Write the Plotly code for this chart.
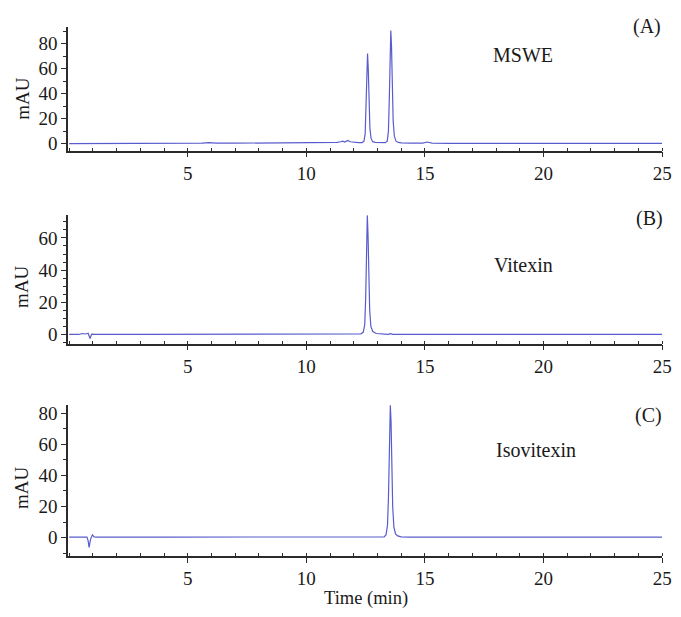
import plotly.graph_objects as go

# ---- Chromatogram data (time in min, absorbance in mAU) ----
# (A) MSWE extract
time_a = [0.0, 1.0, 2.0, 3.0, 3.9, 4.2, 4.5, 5.6, 5.9, 6.2, 7.0, 8.1, 8.4, 8.7, 9.5,
          10.2, 10.8, 11.3, 11.45, 11.53, 11.62, 11.74, 11.85, 12.0, 12.2, 12.35, 12.43,
          12.48, 12.52, 12.55, 12.58, 12.61, 12.64, 12.68, 12.73, 12.80, 12.90, 13.05,
          13.2, 13.33, 13.41, 13.46, 13.50, 13.53, 13.56, 13.59, 13.62, 13.66, 13.71,
          13.78, 13.88, 14.0, 14.4, 14.9, 15.1, 15.3, 16.0, 18.0, 20.0, 22.0, 24.0, 25.0]
mau_a = [0.1, 0.1, 0.2, 0.2, 0.3, 0.7, 0.3, 0.4, 0.9, 0.4, 0.4, 0.5, 1.0, 0.6, 0.7,
         0.9, 1.0, 1.0, 1.5, 2.0, 1.3, 2.6, 1.5, 1.0, 0.9, 0.9, 2.0,
         8.0, 30.0, 58.0, 72.0, 60.0, 35.0, 12.0, 4.0, 1.6, 1.0, 0.8,
         0.7, 0.8, 2.0, 10.0, 38.0, 72.0, 90.5, 78.0, 48.0, 18.0, 6.0,
         2.0, 1.0, 0.6, 0.4, 0.5, 1.3, 0.5, 0.3, 0.3, 0.2, 0.2, 0.2, 0.2]

# (B) Vitexin standard
time_b = [0.0, 0.4, 0.55, 0.7, 0.8, 0.88, 0.95, 1.1, 3.0, 6.0, 9.0, 11.3, 11.47, 11.65,
          12.1, 12.30, 12.40, 12.46, 12.50, 12.54, 12.57, 12.60, 12.63, 12.67, 12.72,
          12.80, 12.95, 13.2, 13.45, 13.55, 13.65, 14.0, 17.0, 20.0, 23.0, 25.0]
mau_b = [0.0, 0.0, 0.6, 0.3, 0.8, -2.5, 0.2, 0.0, 0.0, 0.0, 0.0, 0.0, 0.4, 0.0,
         0.0, 0.3, 1.5, 6.0, 22.0, 55.0, 74.0, 62.0, 38.0, 15.0, 5.0,
         1.8, 0.6, 0.2, 0.1, 0.5, 0.1, 0.0, 0.0, 0.0, 0.0, 0.0]

# (C) Isovitexin standard
time_c = [0.0, 0.5, 0.75, 0.80, 0.84, 0.90, 0.98, 1.05, 1.2, 4.0, 8.0, 11.0, 13.0,
          13.28, 13.36, 13.42, 13.46, 13.50, 13.54, 13.57, 13.60, 13.64, 13.69, 13.76,
          13.85, 14.0, 14.3, 16.0, 19.0, 22.0, 25.0]
mau_c = [0.4, 0.4, 0.4, -2.0, -6.2, -1.0, 1.9, 0.6, 0.4, 0.4, 0.4, 0.4, 0.4,
         0.6, 2.0, 8.0, 25.0, 60.0, 85.0, 75.0, 48.0, 20.0, 7.0, 2.5,
         1.2, 0.6, 0.4, 0.4, 0.4, 0.4, 0.4]

panel_tags = ["(A)", "(B)", "(C)"]
sample_names = ["MSWE", "Vitexin", "Isovitexin"]
y_ticks = [[0, 20, 40, 60, 80], [0, 20, 40, 60], [0, 20, 40, 60, 80]]
x_ticks = [5, 10, 15, 20, 25]

W, H = 681, 617
LINE = "rgb(88,92,204)"
AXIS = "#2b2b2b"
FONT = "Liberation Serif, Times New Roman, serif"

# pixel layout of each panel: (top, bottom) and y range
panels = [
    dict(top=25.0, bottom=150.0, yr=[-5.5, 93.5], minor=10),
    dict(top=215.0, bottom=345.0, yr=[-5.7, 74.3], minor=5),
    dict(top=406.7, bottom=559.3, yr=[-11.6, 85.3], minor=10),
]
x_left, x_right = 69.0, 672.0

series = [(time_a, mau_a), (time_b, mau_b), (time_c, mau_c)]

fig = go.Figure()
layout = dict(
    width=W, height=H,
    margin=dict(l=0, r=0, t=0, b=0),
    paper_bgcolor="white", plot_bgcolor="white",
    showlegend=False,
    font=dict(family=FONT, color="#1a1a1a", size=19),
)
annotations = []

for i, (p, (t, v)) in enumerate(zip(panels, series)):
    n = "" if i == 0 else str(i + 1)
    xa, ya = "x" + n, "y" + n
    fig.add_trace(go.Scatter(x=t, y=v, mode="lines", xaxis=xa, yaxis=ya,
                             line=dict(color=LINE, width=1.2), hoverinfo="skip"))
    y0 = 1 - p["bottom"] / H
    y1 = 1 - p["top"] / H
    layout["xaxis" + n] = dict(
        domain=[x_left / W, x_right / W], anchor=ya,
        range=[-0.05, 25.0], tickvals=x_ticks,
        showline=True, linecolor=AXIS, linewidth=1.5, mirror=False,
        ticks="outside", ticklen=5, tickwidth=1.2, tickcolor=AXIS,
        minor=dict(dtick=1, tick0=0, ticks="inside", ticklen=3, tickcolor=AXIS, tickwidth=0.8),
        showgrid=False, zeroline=False,
        ticklabeloverflow="allow",
        tickfont=dict(size=19, family=FONT),
    )
    layout["yaxis" + n] = dict(
        domain=[y0, y1], anchor=xa,
        range=p["yr"], tickvals=y_ticks[i],
        showline=True, linecolor=AXIS, linewidth=1.5,
        ticks="outside", ticklen=5, tickwidth=1.2, tickcolor=AXIS,
        minor=dict(dtick=p["minor"], tick0=0, ticks="outside", ticklen=3,
                   tickcolor=AXIS, tickwidth=0.8),
        showgrid=False, zeroline=False,
        tickfont=dict(size=19, family=FONT),
    )

# axis titles and panel captions placed in pixel terms
def px(x):
    return x / W

def py(y):
    return 1 - y / H

mau_centers = [97, 287, 490]
tag_pos = [(657, 25), (659, 219), (658, 418)]
name_pos = [(531, 54), (531, 266), (544, 452)]
for i in range(3):
    annotations.append(dict(text="mAU", x=px(22), y=py(mau_centers[i]), xref="paper", yref="paper",
                            textangle=-90, showarrow=False, font=dict(size=19, family=FONT),
                            xanchor="center", yanchor="middle"))
    annotations.append(dict(text=panel_tags[i], x=px(tag_pos[i][0]), y=py(tag_pos[i][1]),
                            xref="paper", yref="paper", showarrow=False,
                            font=dict(size=20, family=FONT), xanchor="center", yanchor="middle"))
    annotations.append(dict(text=sample_names[i], x=px(name_pos[i][0]), y=py(name_pos[i][1]),
                            xref="paper", yref="paper", showarrow=False,
                            font=dict(size=20, family=FONT), xanchor="center", yanchor="middle"))

annotations.append(dict(text="Time (min)", x=px(371.5), y=py(602), xref="paper", yref="paper",
                        showarrow=False, font=dict(size=18.5, family=FONT),
                        xanchor="center", yanchor="middle"))

layout["annotations"] = annotations
fig.update_layout(**layout)
fig.write_html("out.html")
